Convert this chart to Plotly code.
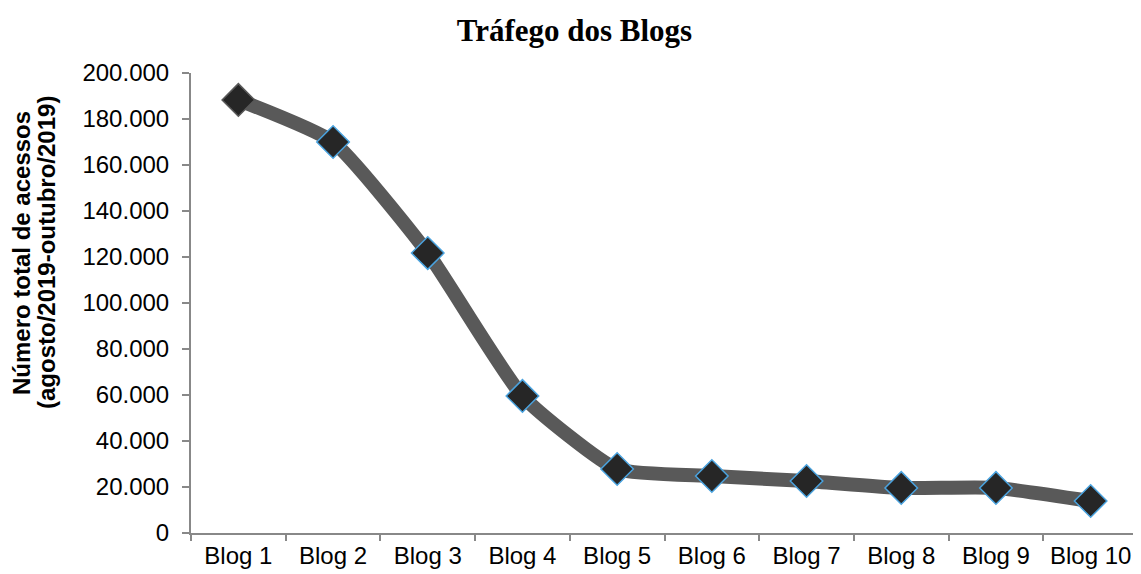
import plotly.graph_objects as go

categories = ["Blog 1", "Blog 2", "Blog 3", "Blog 4", "Blog 5",
              "Blog 6", "Blog 7", "Blog 8", "Blog 9", "Blog 10"]
acessos = [188300, 170000, 121700, 59600, 27800, 24800, 22600, 19600, 19600, 13900]
marker_edges = ["#595959"] + ["#4aa3df"] * 9
y_ticks = [0, 20000, 40000, 60000, 80000, 100000, 120000, 140000, 160000, 180000, 200000]
y_title_lines = ["Número total de acessos", "(agosto/2019-outubro/2019)"]

# page body has an 8px margin: figure spans page 8..1141, 8..574
W, H = 1133, 566
L, R, T, B = 183, 3, 65, 41
PW, PH = W - L - R, H - T - B

fig = go.Figure()
fig.add_trace(go.Scatter(
    x=categories, y=acessos, mode="lines+markers",
    line=dict(color="#595959", width=14, shape="spline", smoothing=0.5),
    marker=dict(symbol="diamond", size=25, color="#262626",
                line=dict(color=marker_edges, width=1.5)),
    showlegend=False,
))

fig.update_layout(
    width=W, height=H,
    paper_bgcolor="white", plot_bgcolor="white",
    margin=dict(l=L, r=R, t=T, b=B),
    separators=",.",
    title=dict(text="<b>Tráfego dos Blogs</b>", x=0.5, xanchor="center",
               y=1 - 22 / H, yanchor="middle",
               font=dict(family="Liberation Serif", size=31, color="black")),
    font=dict(family="Liberation Sans", color="black"),
)
# y-axis title as two rotated lines
for i, (txt, px) in enumerate(zip(y_title_lines, [22, 47])):
    fig.add_annotation(
        text=f"<b>{txt}</b>", textangle=-90, showarrow=False,
        xref="paper", yref="paper",
        x=(px - 8 - L) / PW, y=(H - B - (253 - 8)) / PH,
        xanchor="center", yanchor="middle",
        font=dict(size=24, family="Liberation Sans", color="black"),
    )
fig.update_xaxes(
    type="category", range=[-0.5, 9.5], showgrid=False,
    showline=True, linecolor="#888888", linewidth=2,
    ticks="outside", ticklen=6, tickcolor="#888888", tickwidth=2,
    tickson="boundaries", tickfont=dict(size=24, family="Liberation Sans"),
)
fig.update_yaxes(
    range=[0, 200000], tickvals=y_ticks, tickformat=",d", showgrid=False,
    showline=True, linecolor="#888888", linewidth=2,
    ticks="outside", ticklen=7, tickcolor="#888888", tickwidth=2,
    ticklabelstandoff=8,
    tickfont=dict(size=24, family="Liberation Sans"),
)

fig.write_html("out.html")
